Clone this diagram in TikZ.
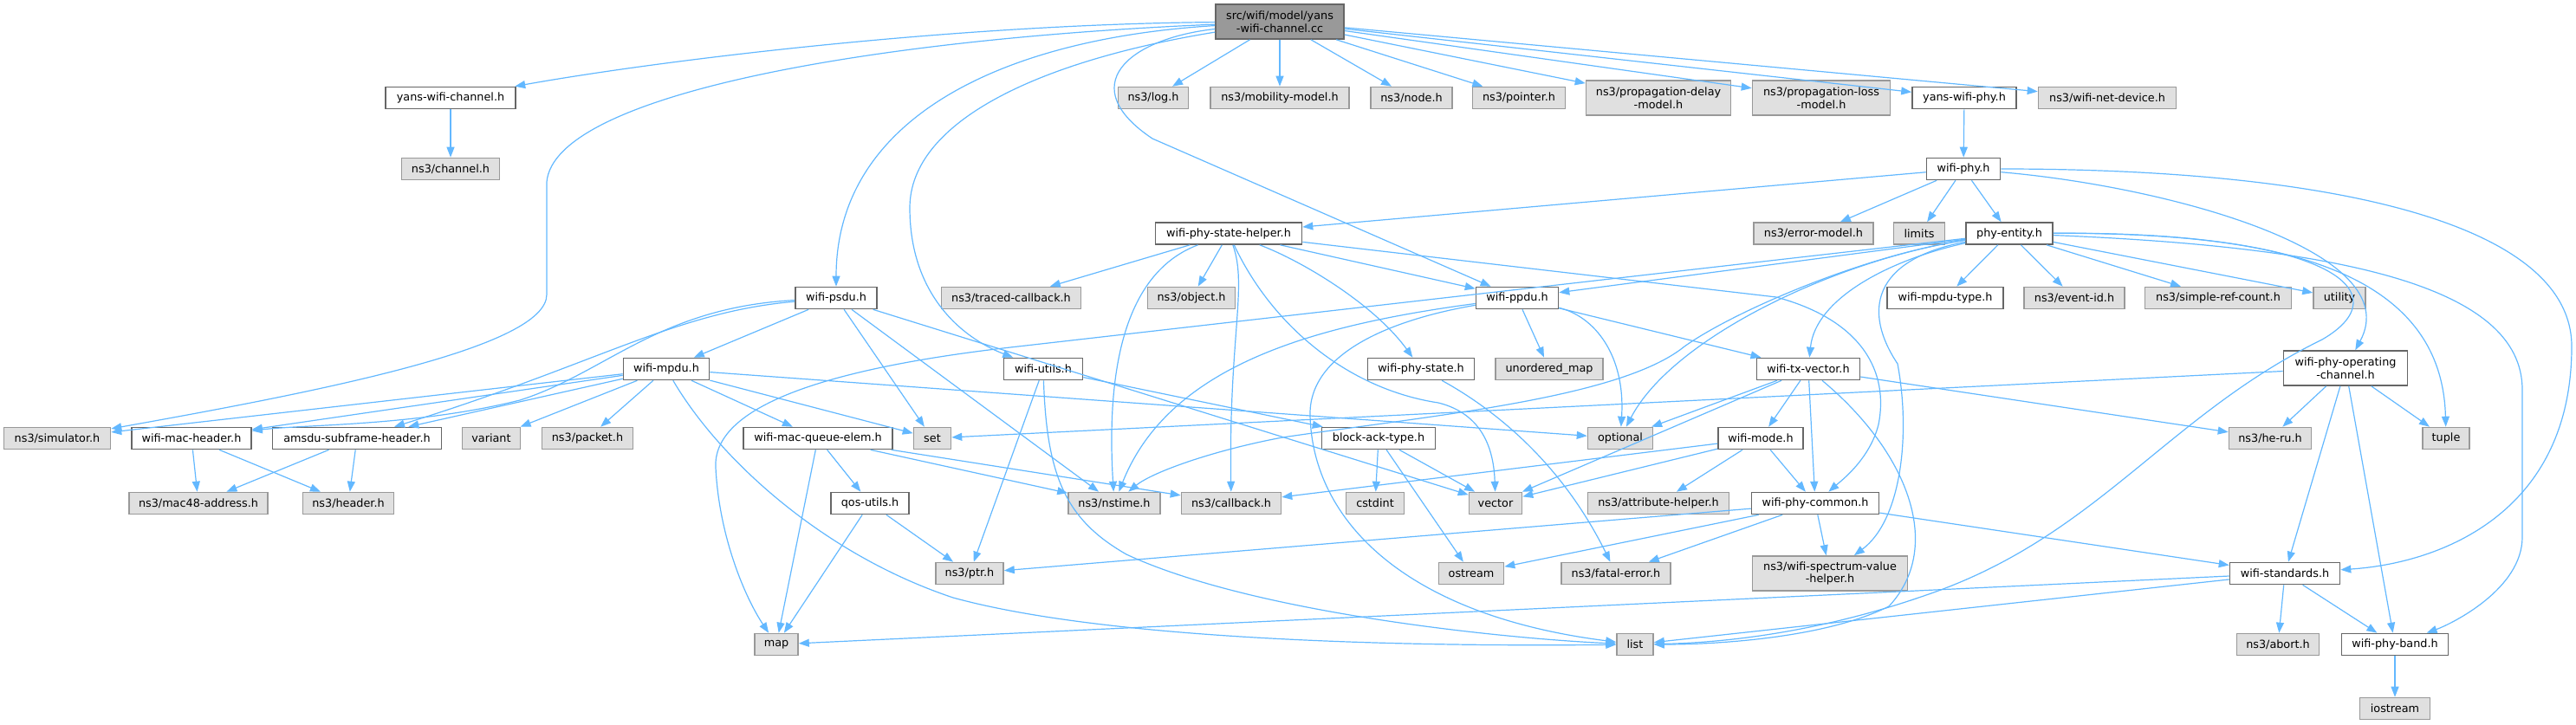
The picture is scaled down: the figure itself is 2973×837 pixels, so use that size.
\documentclass[tikz,border=0pt]{standalone}
\usepackage{fontspec}
\setmainfont{DejaVu Sans}
\usetikzlibrary{arrows.meta}
\definecolor{edgeblue}{HTML}{63B8FF}
\definecolor{boxgray}{HTML}{666666}
\definecolor{extgray}{HTML}{999999}
\definecolor{extfill}{HTML}{E0E0E0}
\definecolor{rootfill}{HTML}{999999}
\tikzset{
  box/.style={draw=boxgray, fill=white, line width=1.6pt, minimum height=25pt, inner sep=1pt, align=center, font=\fontsize{12.8}{14.5}\selectfont},
  ext/.style={box, draw=extgray, fill=extfill},
  root/.style={box, draw=boxgray, fill=rootfill, minimum height=40pt},
  conn/.style={draw=edgeblue, line width=1.2pt, -{Triangle[length=12pt,width=9pt]}}
}
\begin{document}
\begin{tikzpicture}[x=1pt,y=-1pt]
\useasboundingbox (0,0) rectangle (2973,837);
% nodes
\node[root, minimum width=148pt] (main) at (1477,25) {src/wifi/model/yans\\-wifi-channel.cc};
\node[box, minimum width=150pt] (ywch) at (520,113) {yans-wifi-channel.h};
\node[ext, minimum width=81pt] (log) at (1331,113) {ns3/log.h};
\node[ext, minimum width=160pt] (mob) at (1477,113) {ns3/mobility-model.h};
\node[ext, minimum width=94pt] (nodeh) at (1629,113) {ns3/node.h};
\node[ext, minimum width=107pt] (pointer) at (1753,113) {ns3/pointer.h};
\node[ext, minimum width=167pt, minimum height=40pt] (pdelay) at (1914,113) {ns3/propagation-delay\\-model.h};
\node[ext, minimum width=159pt, minimum height=40pt] (ploss) at (2102,113) {ns3/propagation-loss\\-model.h};
\node[box, minimum width=120pt] (ywphy) at (2267,113) {yans-wifi-phy.h};
\node[ext, minimum width=159pt] (netdev) at (2432,113) {ns3/wifi-net-device.h};
\node[ext, minimum width=113pt] (channel) at (520,195) {ns3/channel.h};
\node[box, minimum width=85pt] (wphy) at (2266,195) {wifi-phy.h};
\node[box, minimum width=169pt] (sthelper) at (1418,269.5) {wifi-phy-state-helper.h};
\node[ext, minimum width=138pt] (errmodel) at (2093,269.5) {ns3/error-model.h};
\node[ext, minimum width=59pt] (limits) at (2215,269.5) {limits};
\node[box, minimum width=100pt] (phyent) at (2319,269.5) {phy-entity.h};
\node[box, minimum width=94pt] (psdu) at (965,344) {wifi-psdu.h};
\node[ext, minimum width=161pt] (traced) at (1167,344) {ns3/traced-callback.h};
\node[ext, minimum width=101pt] (object) at (1375,344) {ns3/object.h};
\node[box, minimum width=95pt] (ppdu) at (1751,344) {wifi-ppdu.h};
\node[box, minimum width=134pt] (mpdutype) at (2245,344) {wifi-mpdu-type.h};
\node[ext, minimum width=116pt] (eventid) at (2394,344) {ns3/event-id.h};
\node[ext, minimum width=169pt] (simpleref) at (2560,344) {ns3/simple-ref-count.h};
\node[ext, minimum width=60pt] (utility) at (2700,344) {utility};
\node[box, minimum width=99pt] (mpdu) at (769,426) {wifi-mpdu.h};
\node[box, minimum width=91pt] (utils) at (1204,426) {wifi-utils.h};
\node[box, minimum width=123pt] (phystate) at (1640,426) {wifi-phy-state.h};
\node[ext, minimum width=124pt] (umap) at (1788,426) {unordered\_map};
\node[box, minimum width=119pt] (txvec) at (2087,426) {wifi-tx-vector.h};
\node[box, minimum width=143pt, minimum height=40pt] (opch) at (2707,425) {wifi-phy-operating\\-channel.h};
\node[ext, minimum width=123pt] (sim) at (66,506) {ns3/simulator.h};
\node[box, minimum width=138pt] (mach) at (221,506) {wifi-mac-header.h};
\node[box, minimum width=195pt] (amsdu) at (412,506) {amsdu-subframe-header.h};
\node[ext, minimum width=67pt] (variant) at (567,506) {variant};
\node[ext, minimum width=105pt] (packet) at (678,506) {ns3/packet.h};
\node[box, minimum width=172pt] (mqe) at (944,506) {wifi-mac-queue-elem.h};
\node[ext, minimum width=43pt] (set) at (1076,506) {set};
\node[box, minimum width=131pt] (bat) at (1591,506) {block-ack-type.h};
\node[ext, minimum width=75pt] (optional) at (1870,506) {optional};
\node[box, minimum width=98pt] (mode) at (2032,506) {wifi-mode.h};
\node[ext, minimum width=95pt] (heru) at (2620,506) {ns3/he-ru.h};
\node[ext, minimum width=54pt] (tuple) at (2823,506) {tuple};
\node[ext, minimum width=160pt] (mac48) at (229,581) {ns3/mac48-address.h};
\node[ext, minimum width=105pt] (header) at (402,581) {ns3/header.h};
\node[box, minimum width=90pt] (qos) at (1004,581) {qos-utils.h};
\node[ext, minimum width=106pt] (nstime) at (1286,581) {ns3/nstime.h};
\node[ext, minimum width=115pt] (callback) at (1421,581) {ns3/callback.h};
\node[ext, minimum width=67pt] (cstdint) at (1587,581) {cstdint};
\node[ext, minimum width=61pt] (vector) at (1726,581) {vector};
\node[ext, minimum width=163pt] (attr) at (1914,581) {ns3/attribute-helper.h};
\node[box, minimum width=147pt] (common) at (2095,581) {wifi-phy-common.h};
\node[ext, minimum width=78pt] (ptr) at (1119,662) {ns3/ptr.h};
\node[ext, minimum width=75pt] (ostream) at (1698,662) {ostream};
\node[ext, minimum width=126pt] (fatal) at (1865,662) {ns3/fatal-error.h};
\node[ext, minimum width=179pt, minimum height=40pt] (spectrum) at (2112,662) {ns3/wifi-spectrum-value\\-helper.h};
\node[box, minimum width=127pt] (standards) at (2637,662) {wifi-standards.h};
\node[ext, minimum width=50pt] (map) at (896,744) {map};
\node[ext, minimum width=42pt] (list) at (1887,744) {list};
\node[ext, minimum width=95pt] (abort) at (2629,744) {ns3/abort.h};
\node[box, minimum width=123pt] (band) at (2764,744) {wifi-phy-band.h};
\node[ext, minimum width=81pt] (iostream) at (2764,818) {iostream};
% straight connectors
\foreach \a/\b in {main/log, main/mob, main/nodeh, main/pointer, main/pdelay, main/ploss, main/ywphy, main/netdev,
  ywch/channel, ywphy/wphy, wphy/sthelper, wphy/errmodel, wphy/limits, wphy/phyent,
  phyent/mpdutype, phyent/eventid, phyent/simpleref, phyent/utility, phyent/ppdu,
  sthelper/traced, sthelper/object, sthelper/ppdu,
  ppdu/umap, ppdu/txvec,
  txvec/optional, txvec/vector, txvec/mode, txvec/common, txvec/heru,
  mode/callback, mode/vector, mode/attr, mode/common,
  common/ptr, common/ostream, common/fatal, common/spectrum, common/standards,
  bat/cstdint, bat/vector, bat/ostream,
  utils/ptr, utils/bat,
  psdu/mpdu, psdu/set, psdu/nstime, psdu/vector,
  mpdu/sim, mpdu/mach, mpdu/amsdu, mpdu/variant, mpdu/packet, mpdu/mqe, mpdu/set, mpdu/optional,
  mqe/map, mqe/qos, mqe/nstime, mqe/callback,
  qos/map, qos/ptr,
  mach/mac48, mach/header, amsdu/mac48, amsdu/header,
  opch/set, opch/heru, opch/standards, opch/band, opch/tuple,
  standards/map, standards/list, standards/abort, standards/band,
  band/iostream}
  \draw[conn] (\a) -- (\b);
% curved connectors
\draw[conn] (main) .. controls (1100,28) and (760,70) .. (ywch);
\draw[conn] (main) .. controls (1000,45) and (640,110) .. (631,210) -- (631,340) .. controls (631,400) and (380,450) .. (sim);
\draw[conn] (main) .. controls (1150,45) and (965,140) .. (psdu);
\draw[conn] (main) .. controls (1200,70) and (1050,140) .. (1050,240) .. controls (1050,340) and (1110,390) .. (utils);
\draw[conn] (main) .. controls (1300,45) and (1240,100) .. (1330,160) -- (ppdu);
\draw[conn] (wphy) .. controls (2500,215) and (2780,290) .. (opch);
\draw[conn] (wphy) .. controls (2700,195) and (2968,260) .. (2968,400) .. controls (2968,590) and (2820,650) .. (standards);
\draw[conn] (phyent) .. controls (2180,300) and (2095,345) .. (txvec);
\draw[conn] (phyent) .. controls (2160,300) and (2150,360) .. (2190,420) .. controls (2205,500) and (2195,600) .. (spectrum);
\draw[conn] (phyent) .. controls (2600,268) and (2818,300) .. (tuple);
\draw[conn] (phyent) .. controls (2700,285) and (2911,330) .. (2911,450) -- (2911,620) .. controls (2911,680) and (2830,720) .. (band);
\draw[conn] (phyent) .. controls (2700,268) and (2770,340) .. (2680,392) .. controls (2500,480) and (2420,620) .. (2223,687) .. controls (2100,730) and (1990,742) .. (list);
\draw[conn] (phyent) .. controls (2120,300) and (1930,390) .. (optional);
\draw[conn] (phyent) .. controls (2150,295) and (2000,360) .. (1944,400) .. controls (1870,460) and (1650,480) .. (1480,505) .. controls (1400,520) and (1330,545) .. (nstime);
\draw[conn] (phyent) -- (1175,400) .. controls (950,425) and (822,470) .. (826,540) .. controls (830,620) and (860,690) .. (map);
\draw[conn] (sthelper) .. controls (1310,310) and (1275,400) .. (nstime);
\draw[conn] (sthelper) .. controls (1440,330) and (1418,390) .. (callback);
\draw[conn] (sthelper) .. controls (1470,380) and (1560,450) .. (1660,465) .. controls (1712,478) and (1724,520) .. (vector);
\draw[conn] (sthelper) .. controls (1500,300) and (1585,350) .. (phystate);
\draw[conn] (sthelper) -- (2050,343) .. controls (2150,370) and (2180,430) .. (2168,490) .. controls (2158,530) and (2125,555) .. (common);
\draw[conn] (phystate) .. controls (1720,470) and (1800,530) .. (fatal);
\draw[conn] (ppdu) .. controls (1840,365) and (1876,410) .. (optional);
\draw[conn] (ppdu) .. controls (1520,375) and (1350,420) .. (nstime);
\draw[conn] (ppdu) .. controls (1600,370) and (1510,410) .. (1512,480) .. controls (1515,600) and (1620,710) .. (list);
\draw[conn] (txvec) .. controls (2200,520) and (2245,630) .. (2180,700) .. controls (2110,735) and (1990,744) .. (list);
\draw[conn] (utils) .. controls (1208,550) and (1230,600) .. (1300,640) .. controls (1450,710) and (1750,738) .. (list);
\draw[conn] (psdu) .. controls (780,360) and (690,420) .. (amsdu);
\draw[conn] (psdu) .. controls (760,355) and (700,430) .. (600,462) .. controls (480,492) and (350,490) .. (mach);
\draw[conn] (mpdu) .. controls (830,530) and (950,640) .. (1100,690) .. controls (1300,745) and (1700,746) .. (list);
\end{tikzpicture}
\end{document}
